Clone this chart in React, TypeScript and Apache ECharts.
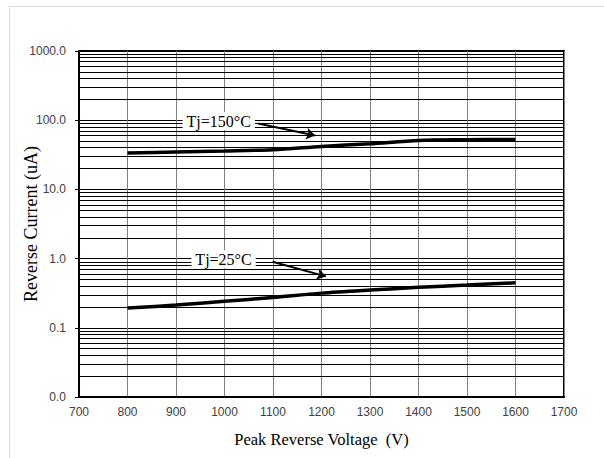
import React, { useEffect, useRef } from "react";
import * as echarts from "echarts";

const voltage = [800, 900, 1000, 1100, 1200, 1300, 1400, 1500, 1600];
const current150 = [33.5, 34.6, 35.8, 37.5, 41.8, 45.7, 51.0, 52.3, 52.8];
const current25 = [0.193, 0.213, 0.241, 0.275, 0.317, 0.351, 0.384, 0.414, 0.447];

const label150 = "Tj=150°C";
const label25 = "Tj=25°C";
const label150Pos = [988, 97];
const label25Pos = [998, 0.98];
const arrow150 = [[1069, 89.9], [1187, 60.3]];
const arrow25 = [[1099, 0.899], [1209, 0.553]];

const decades = [0.01, 0.1, 1, 10, 100];
const minorSteps = [2, 3, 4, 5, 6, 7, 8, 9];

export default function App() {
  const ref = useRef<HTMLDivElement>(null);
  useEffect(() => {
    if (!ref.current) return;
    const chart = echarts.init(ref.current, null, { renderer: "svg" });
    const minorLines: any[] = [];
    decades.forEach((d) => minorSteps.forEach((m) => minorLines.push({ yAxis: +(m * d).toPrecision(3) })));
    const serif = "'Liberation Serif', 'Times New Roman', serif";
    const sans = "'Liberation Sans', Arial, sans-serif";
    const labelStyle = {
      show: true,
      position: "inside",
      color: "#000",
      fontFamily: serif,
      fontSize: 16,
      backgroundColor: "#fff",
      padding: [1, 4, 1, 4],
    };
    chart.setOption({
      animation: false,
      backgroundColor: "#fff",
      grid: {
        left: 79,
        top: 51,
        right: 40,
        bottom: 61,
        show: true,
        borderColor: "#000",
        borderWidth: 2,
        containLabel: false,
        outerBoundsMode: "none",
      },
      graphic: [
        { type: "line", shape: { x1: 9.5, y1: 6.5, x2: 604, y2: 6.5 }, style: { stroke: "#d9d9d9", lineWidth: 1 } },
        { type: "line", shape: { x1: 9.5, y1: 6.5, x2: 9.5, y2: 458 }, style: { stroke: "#d9d9d9", lineWidth: 1 } },
      ],
      xAxis: {
        type: "value",
        min: 700,
        max: 1700,
        interval: 100,
        name: "Peak Reverse Voltage  (V)",
        nameLocation: "middle",
        nameGap: 34,
        nameMoveOverlap: false,
        nameTextStyle: { fontFamily: serif, fontSize: 16.5, color: "#000" },
        axisLine: { lineStyle: { color: "#000", width: 2 } },
        axisTick: { show: false },
        axisLabel: {
          fontFamily: sans,
          fontSize: 12,
          color: "#404040",
          margin: 9,
          formatter: (v: number) => String(Math.round(v)),
        },
        splitLine: { show: true, lineStyle: { color: "#808080", width: 1 } },
      },
      yAxis: {
        type: "log",
        logBase: 10,
        min: 0.01,
        max: 1000,
        splitNumber: 5,
        name: "Reverse Current (uA)",
        nameLocation: "middle",
        nameGap: 39,
        nameMoveOverlap: false,
        nameTextStyle: { fontFamily: serif, fontSize: 18, color: "#000" },
        axisLine: { show: true, lineStyle: { color: "#000", width: 2 } },
        axisTick: { show: true, length: 4, lineStyle: { color: "#000" } },
        axisLabel: {
          fontFamily: sans,
          fontSize: 12,
          color: "#404040",
          margin: 13,
          formatter: (v: number) => Number(v).toFixed(1),
        },
        splitLine: { show: true, lineStyle: { color: "#000", width: 1 } },
      },
      series: [
        {
          name: label25,
          type: "line",
          data: voltage.map((v, i) => [v, current25[i]]),
          showSymbol: false,
          symbol: "none",
          smooth: 0.3,
          z: 3,
          lineStyle: { color: "#000", width: 3.5 },
          markLine: {
            silent: true,
            z: 1,
            symbol: ["none", "none"],
            label: { show: false },
            lineStyle: { color: "#000", width: 1, type: "solid" },
            data: minorLines,
          },
        },
        {
          name: label150,
          type: "line",
          data: voltage.map((v, i) => [v, current150[i]]),
          showSymbol: false,
          symbol: "none",
          smooth: 0.3,
          z: 3,
          lineStyle: { color: "#000", width: 3.5 },
          markLine: {
            silent: true,
            z: 10,
            symbol: ["none", "arrow"],
            symbolSize: 9,
            label: { show: false },
            lineStyle: { color: "#000", width: 2, type: "solid" },
            data: [
              [{ coord: arrow150[0] }, { coord: arrow150[1] }],
              [{ coord: arrow25[0] }, { coord: arrow25[1] }],
            ],
          },
          markPoint: {
            silent: true,
            z: 11,
            symbol: "circle",
            symbolSize: 1,
            itemStyle: { color: "rgba(0,0,0,0)" },
            data: [
              { coord: label150Pos, value: label150, label: { ...labelStyle, formatter: label150 } },
              { coord: label25Pos, value: label25, label: { ...labelStyle, formatter: label25 } },
            ],
          },
        },
      ],
    });
    return () => chart.dispose();
  }, []);
  return <div ref={ref} style={{ position: "absolute", left: 0, top: 0, width: 604, height: 458 }} />;
}
